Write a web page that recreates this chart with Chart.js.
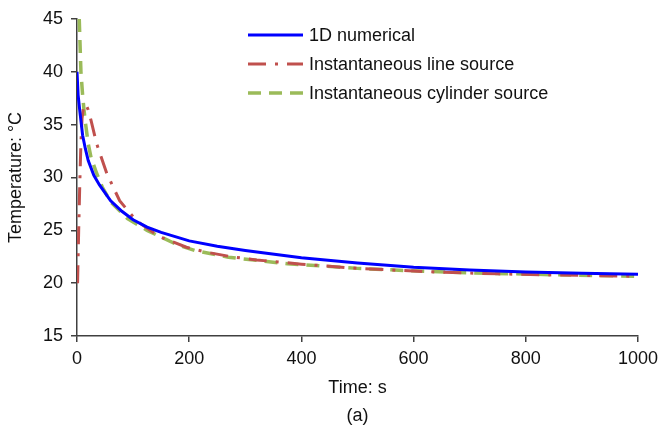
<!DOCTYPE html>
<html>
<head>
<meta charset="utf-8">
<script src="https://cdn.jsdelivr.net/npm/chart.js@4/dist/chart.umd.min.js"></script>
<style>
  html, body { margin: 0; padding: 0; background: #fff; }
  #wrap { width: 658px; height: 428px; }
</style>
</head>
<body>
<div id="wrap"><canvas id="chart" width="658" height="428"></canvas></div>
<script>
// 1D numerical
const timeNumerical = [0, 2, 5, 10, 15, 20, 30, 40, 60, 80, 100, 125, 150, 200, 250, 300, 400, 500, 600, 700, 800, 900, 1000];
const tempNumerical = [40, 37.8, 36.3, 34.0, 32.7, 31.6, 30.2, 29.3, 27.8, 26.8, 26.0, 25.3, 24.8, 24.0, 23.5, 23.1, 22.4, 21.9, 21.5, 21.25, 21.05, 20.93, 20.85];

// Instantaneous line source
const timeLine = [1, 2, 3, 5, 7, 9, 12, 16, 20, 25, 35, 53, 76, 106, 147, 195, 230, 275, 320, 400, 500, 645, 750, 850, 1000];
const tempLine = [20, 22.5, 25, 29.5, 33.3, 35.6, 36.8, 36.9, 36.4, 35.4, 33.2, 30.4, 27.8, 25.9, 24.4, 23.4, 22.94, 22.5, 22.2, 21.8, 21.4, 21.04, 20.88, 20.78, 20.65];

// Instantaneous cylinder source
const timeCylinder = [4, 7, 10, 12.5, 15, 20, 25, 35, 45, 60, 90, 125, 180, 210, 270, 375, 500, 610, 700, 850, 1000];
const tempCylinder = [45, 40, 37.8, 36.4, 35.2, 33.2, 31.9, 30.4, 29.1, 27.7, 26.1, 25.0, 23.6, 23.1, 22.45, 21.84, 21.4, 21.14, 20.98, 20.8, 20.65];

const xTicks = [0, 200, 400, 600, 800, 1000];
const yTicks = [15, 20, 25, 30, 35, 40, 45];

const labels = ["1D numerical", "Instantaneous line source", "Instantaneous cylinder source"];

const toPoints = (xs, ys) => xs.map((x, i) => ({ x: x, y: ys[i] }));

const axisColor = "#404040";
const textColor = "#111";
const fontFamily = "'Liberation Sans', Arial, sans-serif";

// legend drawn inside the plot area
const legendPlugin = {
  id: "innerLegend",
  afterDraw(chart) {
    const c = chart.ctx;
    const rows = [35, 64, 93];
    chart.data.datasets.forEach((ds, i) => {
      c.save();
      c.strokeStyle = ds.borderColor;
      c.lineWidth = ds.borderWidth;
      c.setLineDash(ds.borderDash || []);
      c.beginPath();
      c.moveTo(248, rows[i]);
      c.lineTo(303, rows[i]);
      c.stroke();
      c.restore();
      c.save();
      c.fillStyle = textColor;
      c.font = "18px " + fontFamily;
      c.textBaseline = "middle";
      c.textAlign = "left";
      c.fillText(ds.label, 309, rows[i] + 1);
      c.restore();
    });
  },
};

const ctx = document.getElementById("chart").getContext("2d");
const chart = new Chart(ctx, {
  type: "line",
  data: {
    datasets: [
      {
        label: labels[0],
        data: toPoints(timeNumerical, tempNumerical),
        borderColor: "#0000ff",
        borderWidth: 3,
        pointRadius: 0,
        tension: 0,
      },
      {
        label: labels[1],
        data: toPoints(timeLine, tempLine),
        borderColor: "#c0504d",
        borderWidth: 3,
        borderDash: [18, 9, 3, 9],
        pointRadius: 0,
        tension: 0,
      },
      {
        label: labels[2],
        data: toPoints(timeCylinder, tempCylinder),
        borderColor: "#9bbb59",
        borderWidth: 3.5,
        borderDash: [13, 8],
        pointRadius: 0,
        tension: 0,
      },
    ],
  },
  options: {
    responsive: false,
    animation: false,
    layout: { padding: { top: 19, right: 20, left: 0, bottom: 0 } },
    plugins: { legend: { display: false }, tooltip: { enabled: false } },
    scales: {
      x: {
        type: "linear",
        min: 0,
        max: 1000,
        afterFit: (scale) => {
          scale.height = 92;
          scale.paddingRight = 0;
          scale.paddingLeft = 0;
        },
        afterBuildTicks: (scale) => { scale.ticks = xTicks.map((v) => ({ value: v })); },
        border: { display: true, color: axisColor, width: 1.5 },
        grid: { display: true, drawOnChartArea: false, drawTicks: true, tickLength: 6, color: axisColor, lineWidth: 1.5 },
        ticks: {
          color: textColor,
          padding: 6,
          maxRotation: 0,
          font: { size: 18, family: fontFamily },
          callback: (v) => String(v),
        },
        title: {
          display: true,
          text: ["Time: s", "(a)"],
          color: textColor,
          padding: { top: 0, bottom: -2 },
          font: { size: 18, family: fontFamily, lineHeight: "28px" },
        },
      },
      y: {
        min: 15,
        max: 45,
        afterFit: (scale) => { scale.width = 77; },
        afterBuildTicks: (scale) => { scale.ticks = yTicks.map((v) => ({ value: v })); },
        border: { display: true, color: axisColor, width: 1.5 },
        grid: { display: true, drawOnChartArea: false, drawTicks: true, tickLength: 6, color: axisColor, lineWidth: 1.5 },
        ticks: {
          color: textColor,
          padding: 8,
          font: { size: 18, family: fontFamily },
          callback: (v) => String(v),
        },
        title: {
          display: true,
          text: "Temperature: °C",
          color: textColor,
          padding: { top: 5, bottom: 0 },
          font: { size: 18, family: fontFamily },
        },
      },
    },
  },
  plugins: [legendPlugin],
});
</script>
</body>
</html>
